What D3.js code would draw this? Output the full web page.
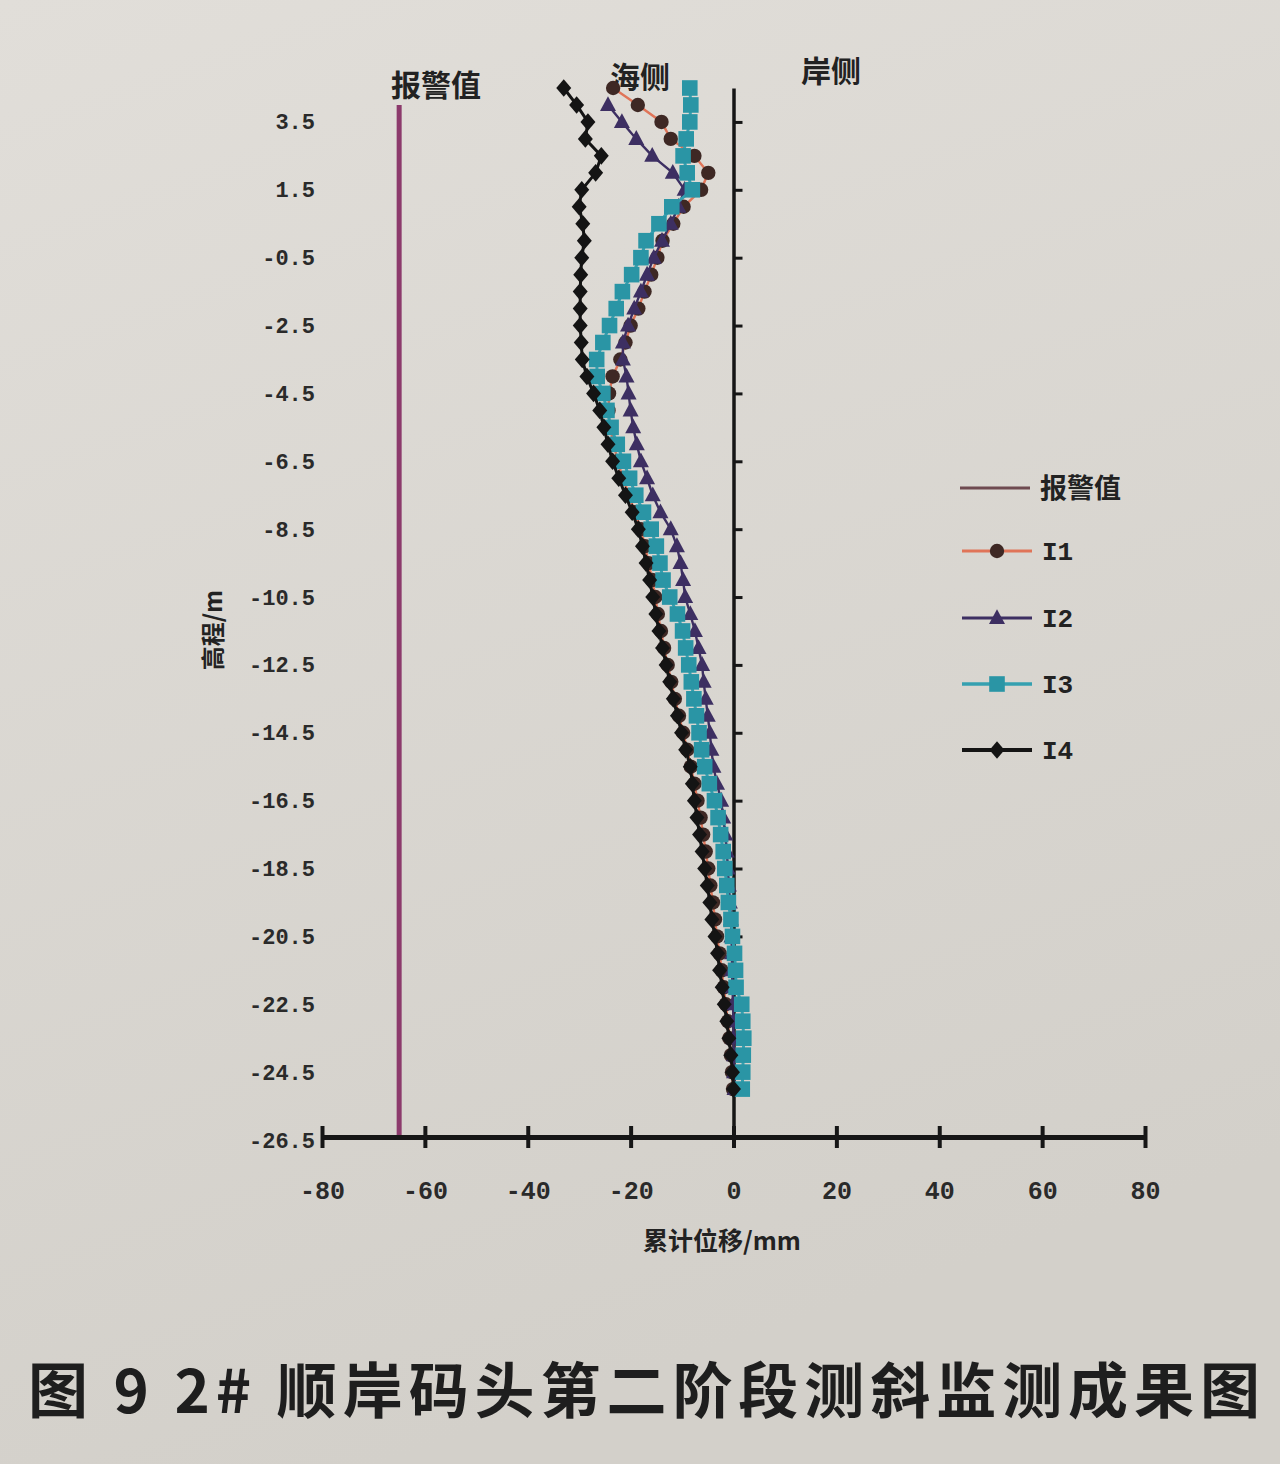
<!DOCTYPE html>
<html><head><meta charset="utf-8">
<script src="https://cdn.jsdelivr.net/npm/d3@7"></script>
<style>body{margin:0;background:#d9d6d0}svg{display:block}</style>
</head><body><svg id="c" width="1280" height="1464"></svg>
<script>
// ---- data ----
const depths = [4.5,4,3.5,3,2.5,2,1.5,1,0.5,0,
  -0.5,-1,-1.5,-2,-2.5,-3,-3.5,-4,-4.5,-5,
  -5.5,-6,-6.5,-7,-7.5,-8,-8.5,-9,-9.5,-10,
  -10.5,-11,-11.5,-12,-12.5,-13,-13.5,-14,-14.5,-15,
  -15.5,-16,-16.5,-17,-17.5,-18,-18.5,-19,-19.5,-20,
  -20.5,-21,-21.5,-22,-22.5,-23,-23.5,-24,-24.5,-25];
const seriesI1 = [-23.4,-18.6,-14.0,-12.2,-7.6,-4.9,-6.3,-9.7,-11.7,-13.8,
  -14.8,-16.0,-17.3,-18.5,-20.0,-21.0,-22.0,-23.5,-24.2,-24.3,
  -24.0,-23.3,-22.5,-21.5,-20.3,-19.2,-18.0,-17.2,-16.5,-15.8,
  -15.2,-14.7,-14.1,-13.5,-12.8,-12.1,-11.4,-10.6,-9.8,-9.0,
  -8.3,-7.6,-7.0,-6.4,-5.9,-5.4,-4.9,-4.5,-4.0,-3.6,
  -3.2,-2.7,-2.3,-1.9,-1.5,-1.1,-0.8,-0.5,-0.3,-0.1];
const seriesI2 = [null,-24.4,-21.7,-18.9,-15.8,-11.8,-9.5,-10.7,-12.2,-13.9,
  -15.5,-16.8,-18.0,-19.3,-20.5,-21.5,-21.5,-20.8,-20.4,-20.0,
  -19.5,-18.8,-18.0,-16.8,-15.7,-14.2,-12.2,-11.0,-10.3,-9.8,
  -9.4,-8.4,-7.5,-6.8,-6.1,-5.8,-5.4,-5.0,-4.6,-4.3,
  -3.9,-3.2,-2.4,-2.0,-1.6,-1.3,-1.1,-0.9,-0.7,-0.5,
  -0.4,-0.3,-0.3,-0.2,-0.1,0.0,0.0,0.1,0.1,0.2];
const seriesI3 = [-8.5,-8.3,-8.5,-9.2,-9.8,-9.0,-8.0,-12.0,-14.5,-17.0,
  -18.0,-19.8,-21.6,-22.8,-24.1,-25.4,-26.6,-26.5,-25.4,-24.6,
  -23.8,-22.6,-21.4,-20.2,-19.0,-17.5,-16.0,-15.0,-14.3,-13.7,
  -12.4,-10.9,-9.9,-9.3,-8.7,-8.2,-7.7,-7.2,-6.7,-6.2,
  -5.6,-4.7,-3.7,-3.0,-2.5,-2.0,-1.7,-1.3,-1.0,-0.5,
  -0.2,0.2,0.4,0.5,1.6,1.8,2.0,1.9,1.8,1.7];
const seriesI4 = [-33.0,-30.5,-28.3,-28.8,-25.7,-26.8,-29.5,-30.0,-29.3,-29.0,
  -29.5,-29.7,-29.8,-29.8,-29.8,-29.6,-29.4,-28.5,-27.2,-26.0,
  -25.2,-24.4,-23.5,-22.3,-21.0,-19.7,-18.5,-17.7,-17.0,-16.3,
  -15.7,-15.1,-14.5,-13.8,-13.1,-12.4,-11.7,-10.9,-10.1,-9.3,
  -8.4,-8.0,-7.6,-7.1,-6.6,-6.1,-5.6,-5.1,-4.6,-4.2,
  -3.6,-3.1,-2.7,-2.2,-1.8,-1.3,-0.9,-0.5,-0.2,0.0];
const alarmValue = -65;
const alarmTop = 4.0;
const xTickValues = [-80,-60,-40,-20,0,20,40,60,80];
const yTickValues = [3.5,1.5,-0.5,-2.5,-4.5,-6.5,-8.5,-10.5,-12.5,-14.5,-16.5,-18.5,-20.5,-22.5,-24.5,-26.5];
const seriesNames = ["I1","I2","I3","I4"];
const alarmName = "报警值";
const xTitle = "累计位移/mm";
const yTitle = "高程/m";
const sideLabels = ["海侧","岸侧"];
const caption = "图 9 2# 顺岸码头第二阶段测斜监测成果图";

// ---- drawing ----
const svg = d3.select("#c");
const defs = svg.append("defs");
const grad = defs.append("linearGradient").attr("id","bg").attr("x1",0).attr("y1",0).attr("x2",0.3).attr("y2",1);
grad.append("stop").attr("offset","0%").attr("stop-color","#e1ded9");
grad.append("stop").attr("offset","100%").attr("stop-color","#d3d0ca");
svg.append("rect").attr("width",1280).attr("height",1464).attr("fill","url(#bg)");

const x = d3.scaleLinear().domain([-80,80]).range([322,1145]);
const y = d3.scaleLinear().domain([-26.5,4.5]).range([1140,88]);

const numFont = "'Liberation Mono', 'DejaVu Sans Mono', monospace";
const cjkFont = "'Noto Sans CJK SC', sans-serif";

// alarm line
svg.append("line")
  .attr("x1",x(alarmValue)).attr("x2",x(alarmValue))
  .attr("y1",y(alarmTop)).attr("y2",y(-26.5))
  .attr("stroke","#8c3a6c").attr("stroke-width",5);

// y tick labels (left)
const yAxisL = svg.append("g").attr("transform",`translate(${x(-80)+5},0)`)
  .call(d3.axisLeft(y).tickValues(yTickValues).tickSize(0).tickPadding(12).tickFormat(d=>String(d)));
yAxisL.select(".domain").remove();
yAxisL.selectAll("text").attr("font-family",numFont).attr("font-weight","bold")
  .attr("font-size",22).attr("fill","#2a2a2a");

// vertical zero axis
const yAxisR = svg.append("g").attr("transform",`translate(${x(0)},0)`)
  .call(d3.axisRight(y).tickValues(yTickValues.slice(0,-1)).tickSize(9).tickSizeOuter(0).tickFormat(""));
yAxisR.select(".domain").attr("stroke","#161616").attr("stroke-width",3.5);
yAxisR.selectAll(".tick line").attr("stroke","#161616").attr("stroke-width",3);

// x axis
const xAxis = svg.append("g").attr("transform",`translate(0,${y(-26.5)-3})`)
  .call(d3.axisBottom(x).tickValues(xTickValues).tickSize(0).tickSizeOuter(0).tickPadding(44).tickFormat(d=>String(d)));
xAxis.select(".domain").attr("stroke","#161616").attr("stroke-width",5);
xAxis.selectAll(".tick line").attr("y1",-11).attr("y2",11).attr("stroke","#161616").attr("stroke-width",4);
xAxis.selectAll("text").attr("font-family",numFont).attr("font-weight","bold")
  .attr("font-size",25).attr("fill","#2a2a2a");

// axis titles
svg.append("text").attr("x",722).attr("y",1250).attr("text-anchor","middle")
  .attr("font-family",cjkFont).attr("font-weight","bold").attr("font-size",25).attr("fill","#222")
  .text(xTitle);
svg.append("text").attr("transform","translate(222,630) rotate(-90)").attr("text-anchor","middle")
  .attr("font-family",cjkFont).attr("font-weight","bold").attr("font-size",24).attr("fill","#222")
  .text(yTitle);

// top annotations
svg.append("text").attr("x",436).attr("y",96).attr("text-anchor","middle")
  .attr("font-family",cjkFont).attr("font-weight","bold").attr("font-size",30).attr("fill","#222").text(alarmName);
svg.append("text").attr("x",640).attr("y",88).attr("text-anchor","middle")
  .attr("font-family",cjkFont).attr("font-weight","bold").attr("font-size",30).attr("fill","#222").text(sideLabels[0]);
svg.append("text").attr("x",831).attr("y",82).attr("text-anchor","middle")
  .attr("font-family",cjkFont).attr("font-weight","bold").attr("font-size",30).attr("fill","#222").text(sideLabels[1]);

// series styles
const styles = {
  I1:{line:"#e07458", lw:2.4, fill:"#3e2824", shape:"circle", size:7.2},
  I2:{line:"#3d2f62", lw:2.4, fill:"#3d2f62", shape:"triangle", size:8},
  I3:{line:"#35a0b0", lw:3, fill:"#2a95a5", shape:"square", size:7.8},
  I4:{line:"#141414", lw:3, fill:"#141414", shape:"diamond", size:8.8}
};
function shapePath(shape, s){
  if(shape==="circle") return d3.symbol(d3.symbolCircle, Math.PI*s*s)();
  if(shape==="square") return `M${-s},${-s}H${s}V${s}H${-s}Z`;
  if(shape==="triangle") return `M0,${-s*1.1}L${s},${s*0.75}L${-s},${s*0.75}Z`;
  return `M0,${-s}L${s*0.85},0L0,${s}L${-s*0.85},0Z`;
}
const allSeries = {I1:seriesI1, I2:seriesI2, I3:seriesI3, I4:seriesI4};
const lineGen = d3.line().defined(d=>d.v!==null).x(d=>x(d.v)).y(d=>y(d.h));
seriesNames.forEach(name=>{
  const st = styles[name];
  const pts = depths.map((h,i)=>({h, v:allSeries[name][i]}));
  const g = svg.append("g");
  g.append("path").datum(pts).attr("d",lineGen).attr("fill","none")
    .attr("stroke",st.line).attr("stroke-width",st.lw);
  g.selectAll("path.m").data(pts.filter(d=>d.v!==null)).join("path").attr("class","m")
    .attr("transform",d=>`translate(${x(d.v)},${y(d.h)})`)
    .attr("d",shapePath(st.shape, st.size)).attr("fill",st.fill);
});

// legend
const legY = [488,551,618,684,750];
const lg = svg.append("g");
lg.append("line").attr("x1",960).attr("x2",1030).attr("y1",legY[0]).attr("y2",legY[0])
  .attr("stroke","#6e4a50").attr("stroke-width",3);
lg.append("text").attr("x",1040).attr("y",legY[0]+10).attr("font-family",cjkFont).attr("font-weight","bold")
  .attr("font-size",27).attr("fill","#222").text(alarmName);
seriesNames.forEach((name,i)=>{
  const st = styles[name], yy = legY[i+1];
  lg.append("line").attr("x1",962).attr("x2",1032).attr("y1",yy).attr("y2",yy)
    .attr("stroke",st.line).attr("stroke-width",name==="I4"?4:st.lw+0.5);
  lg.append("path").attr("transform",`translate(997,${yy})`).attr("d",shapePath(st.shape, st.size)).attr("fill",st.fill);
  lg.append("text").attr("x",1042).attr("y",yy+9).attr("font-family",numFont).attr("font-weight","bold")
    .attr("font-size",26).attr("fill","#222").text(name);
});

// caption
svg.append("text").attr("x",28).attr("y",1413)
  .attr("font-family",cjkFont).attr("font-weight",600).attr("font-size",60).attr("fill","#1e1e1e")
  .attr("textLength",1232).attr("lengthAdjust","spacing").text(caption);
</script>
</body></html>
